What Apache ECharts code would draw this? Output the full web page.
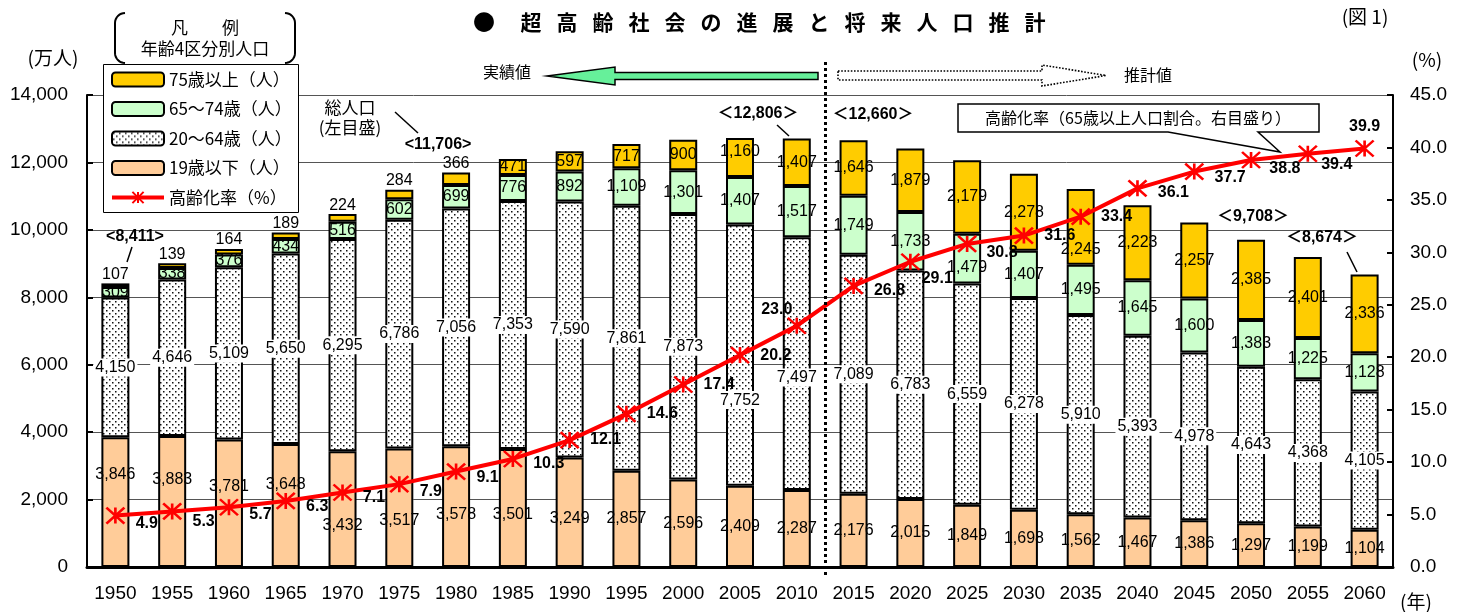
<!DOCTYPE html>
<html>
<head>
<meta charset="utf-8">
<script src="https://cdn.jsdelivr.net/npm/echarts@6/dist/echarts.min.js"></script>
<style>
  html, body { margin: 0; padding: 0; background: #fff; }
  #chart { width: 1467px; height: 612px; }
</style>
</head>
<body>
<div id="chart"></div>
<script>
// 年齢4区分別人口（万人）と高齢化率（%）
const years = ['1950','1955','1960','1965','1970','1975','1980','1985','1990','1995','2000','2005','2010',
               '2015','2020','2025','2030','2035','2040','2045','2050','2055','2060'];
const under19 = [3846,3883,3781,3648,3432,3517,3578,3501,3249,2857,2596,2409,2287,
                 2176,2015,1849,1698,1562,1467,1386,1297,1199,1104];
const age20to64 = [4150,4646,5109,5650,6295,6786,7056,7353,7590,7861,7873,7752,7497,
                   7089,6783,6559,6278,5910,5393,4978,4643,4368,4105];
const age65to74 = [309,338,376,434,516,602,699,776,892,1109,1301,1407,1517,
                   1749,1733,1479,1407,1495,1645,1600,1383,1225,1128];
const age75plus = [107,139,164,189,224,284,366,471,597,717,900,1160,1407,
                   1646,1879,2179,2278,2245,2223,2257,2385,2401,2336];
const agingRate = [4.9,5.3,5.7,6.3,7.1,7.9,9.1,10.3,12.1,14.6,17.4,20.2,23.0,
                   26.8,29.1,30.8,31.6,33.4,36.1,37.7,38.8,39.4,39.9];
// 総人口の注記
const totalNotes = [
  { text: '<8,411>',   x: 135,  y: 237 },
  { text: '<11,706>',  x: 438,  y: 145 },
  { text: '＜12,806＞', x: 758,  y: 114 },
  { text: '＜12,660＞', x: 873,  y: 115 },
  { text: '＜9,708＞',  x: 1253, y: 217 },
  { text: '＜8,674＞',  x: 1322, y: 238 }
];
const seriesNames = ['19歳以下（人）','20～64歳（人）','65～74歳（人）','75歳以上（人）','高齢化率（%）'];

// label nudges (px) so that numbers clear the line and each other
const u19Dy   = [-28,-22,-17,-21,16,13,8,7,6,0,0,0,0,0,0,0,0,0,0,0,0,0,0];
const midDy   = {11: 45, 12: 14};
const g65Dy   = {15: 9};
const o75Dy   = {11: -6, 17: 23};
const rateOff = [[5,8],[5,10],[5,7],[5,6],[5,5],[5,7],[5,6],[5,5],[5,0],[5,0],[5,0],[5,0],null,
                 [5,5],[-4,17],[4,9],[5,0],[5,0],[5,4],[5,6],[3,9],[-2,11],null];

const fmt = v => Number(v).toLocaleString('en-US');
const NUM_FONT = 'Liberation Sans, Arial, sans-serif';
const JP_FONT = '"Noto Sans CJK JP", sans-serif';

// dotted texture for the 20-64 band
const tile = document.createElement('canvas');
tile.width = 6; tile.height = 6;
(function () {
  const c = tile.getContext('2d');
  c.fillStyle = '#fff'; c.fillRect(0, 0, 6, 6);
  c.fillStyle = '#111';
  c.fillRect(1, 1, 1.5, 1.5);
  c.fillRect(4, 4, 1.5, 1.5);
})();

const baseLabel = { show: true, color: '#000', fontSize: 16, fontFamily: NUM_FONT, formatter: p => fmt(p.value) };

const u19Data = under19.map((v, i) => ({ value: v, label: { offset: [0, u19Dy[i]] } }));
const midData = age20to64.map((v, i) => ({ value: v, label: { offset: [0, midDy[i] || 0] } }));
const g65Data = age65to74.map((v, i) => ({ value: v, label: { offset: [0, g65Dy[i] || 0] } }));
const o75Data = age75plus.map((v, i) => ({
  value: v,
  label: i <= 6 ? { position: 'top', distance: 1 } : { position: 'inside', offset: [0, o75Dy[i] || 0] }
}));
const rateData = agingRate.map((v, i) => {
  if (i === 12) return { value: v, label: { position: 'top', offset: [-20, 6] } };
  if (i === 22) return { value: v, label: { position: 'top', offset: [0, 0] } };
  return { value: v, label: { position: 'right', offset: rateOff[i] } };
});

const barCommon = {
  type: 'bar', stack: 'pop', barWidth: 28, yAxisIndex: 0,
  emphasis: { disabled: true }
};

function txt(x, y, text, font, extra) {
  return Object.assign({ type: 'text', x: x, y: y, z: 10,
    style: { text: text, font: font, fill: '#000', align: 'center', verticalAlign: 'middle' } }, extra || {});
}

// rounded bracket, drawn as a polyline
function bracket(x, y1, y2, dir, r) {
  const pts = [];
  for (let k = 0; k <= 8; k++) {
    const a = Math.PI / 2 * k / 8;
    pts.push([x + dir * r * (1 - Math.sin(a)), y1 + r * (1 - Math.cos(a))]);
  }
  for (let k = 0; k <= 8; k++) {
    const a = Math.PI / 2 * k / 8;
    pts.push([x + dir * r * (1 - Math.cos(a)), y2 - r * (1 - Math.sin(a))]);
  }
  return { type: 'polyline', z: 10, shape: { points: pts }, style: { stroke: '#000', lineWidth: 2, fill: null } };
}

// title characters spread evenly
const titleChars = '超高齢社会の進展と将来人口推計'.split('');
const graphics = [];
graphics.push(txt(484, 22, '●', 'bold 22px ' + JP_FONT));
titleChars.forEach((ch, i) => graphics.push(txt(531 + i * 36, 22, ch, 'bold 21px ' + JP_FONT)));
graphics.push(txt(1365, 17, '(図 1)', '19px ' + JP_FONT));
graphics.push(txt(53, 58, '(万人)', '19px ' + JP_FONT));
graphics.push(txt(1427, 60, '(%)', '19px ' + JP_FONT));
graphics.push(txt(1416, 602, '(年)', '19px ' + JP_FONT));

// legend heading and frame
graphics.push(bracket(115, 13, 63, 1, 10));
graphics.push(bracket(295, 13, 63, -1, 10));
graphics.push(txt(205, 28, '凡　　例', '17px ' + JP_FONT));
graphics.push(txt(205, 49, '年齢4区分別人口', '17px ' + JP_FONT));
graphics.push({ type: 'rect', z: 3, shape: { x: 103.5, y: 64.5, width: 195, height: 148 },
  style: { fill: '#fff', stroke: '#000', lineWidth: 1 } });

// 総人口 note
graphics.push(txt(350, 108, '総人口', '17px ' + JP_FONT));
graphics.push(txt(350, 128, '(左目盛)', '17px ' + JP_FONT));
[[395,112,418,133],[132,247,127,262],[777,125,789,136],[1347,252,1357,272]].forEach(s => {
  graphics.push({ type: 'line', z: 10, shape: { x1: s[0], y1: s[1], x2: s[2], y2: s[3] },
    style: { stroke: '#000', lineWidth: 1.5 } });
});
totalNotes.forEach(n => graphics.push(txt(n.x, n.y, n.text, 'bold 16px ' + NUM_FONT + ', ' + JP_FONT)));

// 実績値 / 推計値 arrows
graphics.push(txt(507, 72, '実績値', '16px ' + JP_FONT));
graphics.push({ type: 'polygon', z: 10,
  shape: { points: [[547,76],[615,67],[615,72.5],[818,72.5],[818,79.5],[615,79.5],[615,85]] },
  style: { fill: '#66F09A', stroke: '#000', lineWidth: 1.5 } });
graphics.push({ type: 'polygon', z: 10,
  shape: { points: [[838,71],[1042,71],[1042,65],[1106,75.5],[1042,86],[1042,80],[838,80]] },
  style: { fill: '#fff', stroke: '#000', lineWidth: 1.6, lineDash: [1.6, 1.6] } });
graphics.push(txt(1148, 75, '推計値', '16px ' + JP_FONT));

// 高齢化率 callout
graphics.push({ type: 'polygon', z: 10,
  shape: { points: [[958,104],[1319,104],[1319,132],[1258,132],[1280,152],[1168,132],[958,132]] },
  style: { fill: '#fff', stroke: '#000', lineWidth: 1.5 } });
graphics.push(txt(1138, 118, '高齢化率（65歳以上人口割合。右目盛り）', '16px ' + JP_FONT, { z: 11 }));

const chart = echarts.init(document.getElementById('chart'), null, { renderer: 'canvas' });

chart.setOption({
  animation: false,
  backgroundColor: '#fff',
  grid: { left: 87, right: 74, top: 95, bottom: 45, containLabel: false },
  legend: {
    orient: 'vertical', left: 110, top: 71, padding: 0, z: 4,
    itemWidth: 52, itemHeight: 14, itemGap: 12.5,
    data: [seriesNames[3], seriesNames[2], seriesNames[1], seriesNames[0], seriesNames[4]],
    textStyle: { fontSize: 17, fontFamily: JP_FONT, color: '#000' },
    lineStyle: { width: 4, color: '#FF0000' },
    selectedMode: false
  },
  xAxis: {
    type: 'category', data: years,
    axisLine: { lineStyle: { color: '#000', width: 3 } },
    axisTick: { inside: true, length: 6, lineStyle: { color: '#000', width: 2 } },
    axisLabel: { fontSize: 19, fontFamily: NUM_FONT, color: '#000', margin: 17 },
    splitLine: { show: false }
  },
  yAxis: [
    {
      type: 'value', min: 0, max: 14000, interval: 2000,
      axisLine: { show: true, lineStyle: { color: '#000', width: 2 } },
      axisTick: { show: true, inside: true, length: 6, lineStyle: { color: '#000', width: 2 } },
      axisLabel: { fontSize: 19, fontFamily: NUM_FONT, color: '#000', margin: 19, formatter: v => fmt(v) },
      splitLine: { show: true, lineStyle: { color: '#555', width: 1 } }
    },
    {
      type: 'value', min: 0, max: 45, interval: 5, position: 'right',
      axisLine: { show: true, lineStyle: { color: '#000', width: 2 } },
      axisTick: { show: true, inside: true, length: 6, lineStyle: { color: '#000', width: 2 } },
      axisLabel: { fontSize: 19, fontFamily: NUM_FONT, color: '#000', margin: 17, formatter: v => v.toFixed(1) },
      splitLine: { show: false }
    }
  ],
  graphic: { elements: graphics },
  series: [
    Object.assign({}, barCommon, {
      name: seriesNames[0], data: u19Data,
      itemStyle: { color: '#FFCC99', borderColor: '#000', borderWidth: 2 },
      label: Object.assign({}, baseLabel, { position: 'inside' })
    }),
    Object.assign({}, barCommon, {
      name: seriesNames[1], data: midData,
      itemStyle: { color: { image: tile, repeat: 'repeat' }, borderColor: '#000', borderWidth: 2 },
      label: Object.assign({}, baseLabel, { position: 'inside', backgroundColor: '#fff', padding: [1, 2] })
    }),
    Object.assign({}, barCommon, {
      name: seriesNames[2], data: g65Data,
      itemStyle: { color: '#CCFFCC', borderColor: '#000', borderWidth: 2 },
      label: Object.assign({}, baseLabel, { position: 'inside' })
    }),
    Object.assign({}, barCommon, {
      name: seriesNames[3], data: o75Data,
      itemStyle: { color: '#FFCC00', borderColor: '#000', borderWidth: 2 },
      label: Object.assign({}, baseLabel, { position: 'inside' })
    }),
    {
      name: seriesNames[4], type: 'line', yAxisIndex: 1, data: rateData, z: 5,
      symbol: 'path://M0,0L18,16M18,0L0,16M9,0L9,16', symbolSize: [18, 16],
      lineStyle: { color: '#FF0000', width: 4 },
      itemStyle: { color: '#FF0000', borderColor: '#FF0000', borderWidth: 2.5 },
      emphasis: { disabled: true },
      label: { show: true, color: '#000', fontSize: 16, fontWeight: 'bold', fontFamily: NUM_FONT,
               formatter: p => p.value.toFixed(1) }
    }
  ]
});

// dashed divider between recorded and projected years
(function () {
  const a = chart.convertToPixel({ xAxisIndex: 0 }, '2010');
  const b = chart.convertToPixel({ xAxisIndex: 0 }, '2015');
  const x = Math.round((a + b) / 2) + 0.5;
  graphics.push({ type: 'line', z: 9, shape: { x1: x, y1: 62, x2: x, y2: 576 },
    style: { stroke: '#000', lineWidth: 3, lineDash: [3, 3] } });
  chart.setOption({ graphic: { elements: graphics } });
})();
</script>
</body>
</html>
